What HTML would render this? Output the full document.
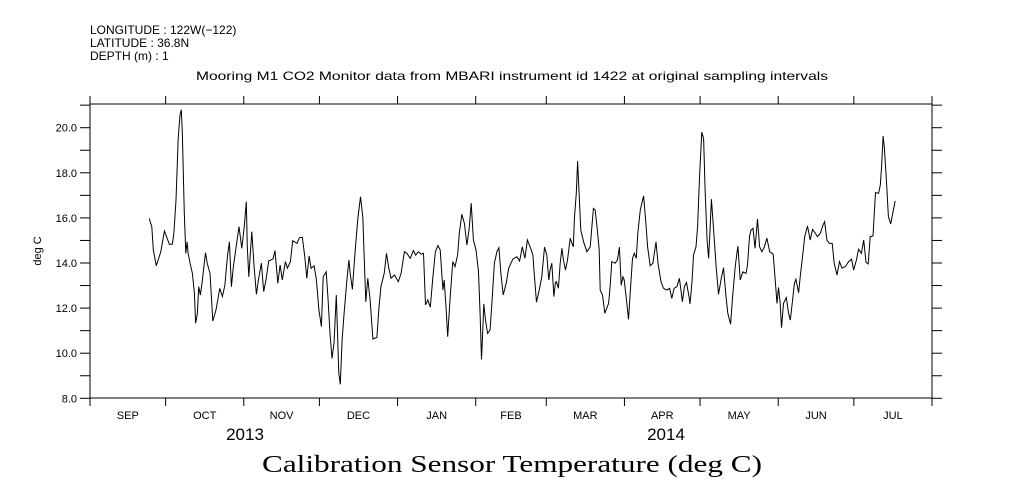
<!DOCTYPE html>
<html><head><meta charset="utf-8"><style>
html,body{margin:0;padding:0;background:#fff;}
svg{display:block;}
text{font-family:"Liberation Sans",sans-serif;fill:#000;}
</style></head><body>
<svg id="chart" width="1009" height="504" viewBox="0 0 1009 504" xmlns="http://www.w3.org/2000/svg">
<g font-size="12">
<text x="90" y="34">LONGITUDE : 122W(−122)</text>
<text x="90" y="47">LATITUDE : 36.8N</text>
<text x="90" y="60">DEPTH (m) : 1</text>
</g>
<text x="512" y="80" text-anchor="middle" font-size="12" textLength="632" lengthAdjust="spacingAndGlyphs">Mooring M1 CO2 Monitor data from MBARI instrument id 1422 at original sampling intervals</text>
<text transform="translate(41,251) rotate(-90)" text-anchor="middle" font-size="11">deg C</text>
<text x="245" y="440" text-anchor="middle" font-size="17">2013</text>
<text x="666" y="440" text-anchor="middle" font-size="17">2014</text>
<text x="512" y="472" text-anchor="middle" font-size="24" textLength="500" lengthAdjust="spacingAndGlyphs" style="font-family:'Liberation Serif',serif">Calibration Sensor Temperature (deg C)</text>
<rect x="90" y="104" width="842" height="294" fill="none" stroke="#000" stroke-width="1"/>
<g id="axes"></g>
<path id="series" fill="none" stroke="#000" stroke-width="1"/>
</svg>
<script>
const days=[23.5,24.5,25.1,26.3,28.1,29.5,31.5,32.7,33.3,34.1,35.0,35.7,36.2,36.6,37.4,38.0,38.5,38.9,39.7,40.6,41.4,41.9,42.6,43.1,43.8,44.6,45.8,46.5,47.6,48.7,50.0,51.5,52.5,53.5,54.5,55.3,56.1,56.9,57.8,59.1,60.2,61.2,62.0,62.4,63.0,64.2,65.1,66.0,66.8,68.0,68.9,69.8,70.9,72.6,73.4,74.5,75.4,76.3,77.5,78.3,79.5,80.4,82.1,83.1,84.2,85.2,86.0,86.9,87.7,88.9,89.8,90.8,91.8,92.5,93.7,94.4,95.2,96.0,96.8,97.7,98.7,99.3,100.0,100.8,101.9,102.7,103.2,104.1,105.0,106.2,107.3,108.2,108.8,109.4,110.2,111.1,112.2,113.8,114.6,115.4,116.7,117.6,118.4,119.4,120.8,122.3,123.4,124.7,125.7,127.0,128.3,129.2,130.3,131.3,132.3,133.1,134.0,135.0,136.0,137.0,138.0,138.9,140.0,140.5,141.2,141.9,142.9,143.9,144.8,145.8,146.5,147.5,148.5,149.5,150.4,151.2,152.1,153.1,154.1,154.8,155.3,155.7,156.2,156.9,157.7,158.7,159.5,160.4,161.4,162.2,163.0,163.9,165.1,166.1,167.7,169.3,170.4,171.5,172.5,173.5,174.9,175.7,176.2,177.1,178.2,179.2,180.3,181.2,182.0,182.5,183.2,184.0,184.6,185.0,185.8,186.5,187.2,187.8,188.6,189.4,190.5,191.2,191.7,192.2,192.9,193.4,194.0,194.7,195.8,197.1,198.4,199.1,199.7,200.4,201.1,202.0,202.4,203.3,204.2,205.7,206.3,207.0,208.3,209.2,210.0,210.7,211.4,211.9,212.8,213.6,214.3,215.2,215.9,216.7,217.3,218.3,219.6,220.5,221.2,222.2,223.3,224.5,225.3,226.5,227.5,228.8,229.9,230.8,231.7,232.8,233.8,235.0,235.8,236.6,237.6,238.0,238.8,239.4,240.4,241.0,241.8,242.7,243.4,244.0,244.8,245.4,245.9,246.5,247.3,248.3,249.3,250.3,251.3,252.3,253.0,254.1,254.9,256.0,257.0,257.9,259.0,260.2,260.8,261.6,262.2,263.0,263.8,264.8,265.6,266.5,267.5,268.5,269.6,271.0,271.8,272.5,273.1,273.8,274.3,275.1,276.2,277.1,277.8,278.7,279.4,280.0,281.1,281.7,282.8,283.5,284.6,285.7,286.6,287.7,288.6,289.7,290.8,291.4,292.3,293.3,294.4,295.2,296.3,297.3,298.3,299.6,300.9,302.1,302.9,304.0,304.9,306.0,306.9,307.8,308.7,309.5,310.6,311.6,312.8,313.5,314.0,314.6,315.1,315.9,316.7,317.6,318.4,319.4];
const temps=[15.98,15.61,14.58,13.87,14.50,15.42,14.83,14.84,15.34,16.79,19.53,20.56,20.8,19.82,16.2,14.43,14.94,14.43,13.99,13.54,12.66,11.33,11.77,12.95,12.58,13.25,14.46,13.99,13.54,11.43,11.92,12.88,12.51,13.02,14.28,14.94,12.95,13.84,14.58,15.61,14.65,15.64,16.72,14.72,13.39,15.39,13.84,12.61,13.25,13.99,12.73,13.25,14.09,14.18,14.55,13.10,13.91,13.25,14.06,13.77,14.06,14.99,14.87,15.12,15.14,14.28,13.32,14.31,13.77,13.87,13.25,11.92,11.18,13.39,13.61,12.43,10.88,9.77,10.44,12.58,9.11,8.62,10.59,11.77,13.25,14.13,13.54,12.83,14.28,15.91,16.94,16.05,14.13,12.28,13.32,12.36,10.63,10.70,11.99,12.95,13.54,14.43,13.84,13.32,13.47,13.17,13.54,14.50,14.43,14.21,14.55,14.35,14.50,14.39,14.43,12.14,12.36,12.04,13.39,14.50,14.77,14.58,12.80,13.25,12.06,10.73,12.51,14.06,13.84,14.35,15.32,16.16,15.76,14.80,15.54,16.65,15.02,14.58,13.61,11.62,9.73,10.73,12.18,11.47,10.88,11.03,12.36,13.99,14.50,14.68,13.54,12.58,13.10,13.77,14.17,14.28,14.09,14.72,14.21,15.02,14.62,14.35,13.54,12.26,12.80,13.39,14.70,14.35,13.25,13.69,13.99,12.51,13.13,13.17,12.88,13.99,14.65,14.13,13.69,14.13,15.10,14.87,14.72,16.05,17.09,18.52,17.09,15.46,14.94,14.50,14.72,15.61,16.42,16.35,15.61,14.58,12.80,12.58,11.77,12.21,12.95,14.06,13.99,14.13,14.70,13.02,13.39,13.25,12.36,11.50,12.66,14.21,14.43,14.21,15.32,16.35,16.98,15.76,14.72,13.88,13.99,14.94,13.99,13.17,12.88,12.80,12.88,12.43,12.88,12.95,13.32,12.28,12.95,13.13,12.51,12.18,13.17,14.35,14.72,15.61,17.90,19.80,19.53,17.24,15.02,14.21,15.32,16.83,15.61,13.91,12.61,13.25,13.79,12.51,11.77,11.28,12.51,13.91,14.75,13.25,13.61,13.54,13.91,15.17,15.46,15.54,14.65,15.95,14.72,14.50,14.72,15.10,14.50,14.39,13.25,12.21,12.92,12.21,11.13,12.21,12.46,11.77,11.47,12.36,13.10,13.28,12.68,13.39,14.43,15.17,15.64,15.02,15.49,15.32,15.17,15.32,15.69,15.83,15.02,14.87,14.87,13.99,13.47,14.06,13.77,13.84,14.06,14.17,13.69,14.13,14.61,14.43,15.02,14.03,13.96,15.17,15.20,17.12,17.09,17.46,18.27,19.63,19.09,17.68,16.05,15.73,16.20,16.75];
const monthStarts=[0,30,61,91,122,153,181,212,242,273,303,334];
const monthLabels=["SEP","OCT","NOV","DEC","JAN","FEB","MAR","APR","MAY","JUN","JUL"];
const yTicks=[8,9,10,11,12,13,14,15,16,17,18,19,20,21];
const yLabels=["8.0","10.0","12.0","14.0","16.0","18.0","20.0"];

const X0=90,X1=932,Y0=398.3,YPU=22.55;
function xs(d){return X0+d*(X1-X0)/334;}
function ys(v){return Y0-(v-8)*YPU;}
const NS="http://www.w3.org/2000/svg";
const axes=document.getElementById('axes');
function ln(x1,y1,x2,y2,name){const l=document.createElementNS(NS,'line');l.setAttribute('x1',x1);l.setAttribute('y1',y1);l.setAttribute('x2',x2);l.setAttribute('y2',y2);l.setAttribute('stroke','#000');l.setAttribute('stroke-width','1');


axes.appendChild(l);}
function tx(x,y,s,anchor,name){const t=document.createElementNS(NS,'text');t.setAttribute('x',x);t.setAttribute('y',y);t.setAttribute('font-size','11');t.setAttribute('text-anchor',anchor);t.textContent=s;


axes.appendChild(t);}
yTicks.forEach(v=>{const y=ys(v);ln(80,y,90,y,'y-tick-left');ln(932,y,942,y,'y-tick-right');});
yLabels.forEach(s=>{tx(77,ys(parseFloat(s))+4,s,'end','y-tick-label');});
monthStarts.forEach((d,i)=>{const x=xs(d);ln(x,398,x,406,'x-tick-bottom');ln(x,96,x,104,'x-tick-top');});
monthLabels.forEach((m,i)=>{const x=xs((monthStarts[i]+monthStarts[i+1])/2);tx(x,419,m,'middle','month-label');});
let dstr='';
const n=Math.min(days.length,temps.length);
for(let i=0;i<n;i++){dstr+=(i?'L':'M')+xs(days[i]).toFixed(1)+','+ys(temps[i]).toFixed(1);}
document.getElementById('series').setAttribute('d',dstr);
</script>
</body></html>
